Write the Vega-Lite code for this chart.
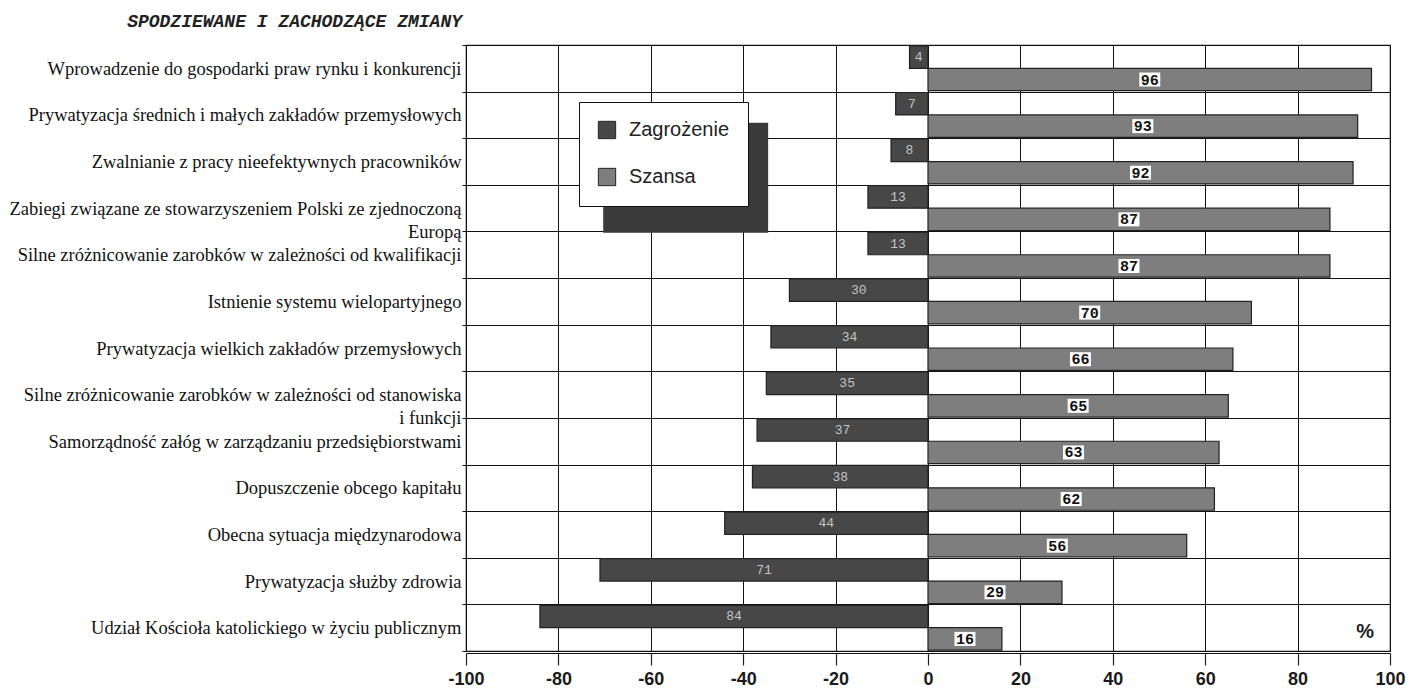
{
  "$schema": "https://vega.github.io/schema/vega-lite/v6.json",
  "width": 924,
  "height": 606,
  "autosize": {"type": "none"},
  "padding": {"left": 466, "top": 45, "right": 21, "bottom": 46},
  "background": "white",
  "title": {
    "text": "SPODZIEWANE I ZACHODZĄCE ZMIANY",
    "anchor": "start",
    "frame": "group",
    "align": "right",
    "dx": -4,
    "offset": 5,
    "font": "Liberation Mono",
    "fontStyle": "italic",
    "fontWeight": "bold",
    "fontSize": 18,
    "color": "#222222"
  },
  "config": {
    "view": {"stroke": "#111111", "strokeWidth": 1.2}
  },
  "datasets": {
    "zmiany": [
      {"kategoria": "Wprowadzenie do gospodarki praw rynku i konkurencji", "seria": "Zagrożenie", "procent": 4},
      {"kategoria": "Wprowadzenie do gospodarki praw rynku i konkurencji", "seria": "Szansa", "procent": 96},
      {"kategoria": "Prywatyzacja średnich i małych zakładów przemysłowych", "seria": "Zagrożenie", "procent": 7},
      {"kategoria": "Prywatyzacja średnich i małych zakładów przemysłowych", "seria": "Szansa", "procent": 93},
      {"kategoria": "Zwalnianie z pracy nieefektywnych pracowników", "seria": "Zagrożenie", "procent": 8},
      {"kategoria": "Zwalnianie z pracy nieefektywnych pracowników", "seria": "Szansa", "procent": 92},
      {"kategoria": "Zabiegi związane ze stowarzyszeniem Polski ze zjednoczoną\nEuropą", "seria": "Zagrożenie", "procent": 13},
      {"kategoria": "Zabiegi związane ze stowarzyszeniem Polski ze zjednoczoną\nEuropą", "seria": "Szansa", "procent": 87},
      {"kategoria": "Silne zróżnicowanie zarobków w zależności od kwalifikacji", "seria": "Zagrożenie", "procent": 13},
      {"kategoria": "Silne zróżnicowanie zarobków w zależności od kwalifikacji", "seria": "Szansa", "procent": 87},
      {"kategoria": "Istnienie systemu wielopartyjnego", "seria": "Zagrożenie", "procent": 30},
      {"kategoria": "Istnienie systemu wielopartyjnego", "seria": "Szansa", "procent": 70},
      {"kategoria": "Prywatyzacja wielkich zakładów przemysłowych", "seria": "Zagrożenie", "procent": 34},
      {"kategoria": "Prywatyzacja wielkich zakładów przemysłowych", "seria": "Szansa", "procent": 66},
      {"kategoria": "Silne zróżnicowanie zarobków w zależności od stanowiska\ni funkcji", "seria": "Zagrożenie", "procent": 35},
      {"kategoria": "Silne zróżnicowanie zarobków w zależności od stanowiska\ni funkcji", "seria": "Szansa", "procent": 65},
      {"kategoria": "Samorządność załóg w zarządzaniu przedsiębiorstwami", "seria": "Zagrożenie", "procent": 37},
      {"kategoria": "Samorządność załóg w zarządzaniu przedsiębiorstwami", "seria": "Szansa", "procent": 63},
      {"kategoria": "Dopuszczenie obcego kapitału", "seria": "Zagrożenie", "procent": 38},
      {"kategoria": "Dopuszczenie obcego kapitału", "seria": "Szansa", "procent": 62},
      {"kategoria": "Obecna sytuacja międzynarodowa", "seria": "Zagrożenie", "procent": 44},
      {"kategoria": "Obecna sytuacja międzynarodowa", "seria": "Szansa", "procent": 56},
      {"kategoria": "Prywatyzacja służby zdrowia", "seria": "Zagrożenie", "procent": 71},
      {"kategoria": "Prywatyzacja służby zdrowia", "seria": "Szansa", "procent": 29},
      {"kategoria": "Udział Kościoła katolickiego w życiu publicznym", "seria": "Zagrożenie", "procent": 84},
      {"kategoria": "Udział Kościoła katolickiego w życiu publicznym", "seria": "Szansa", "procent": 16}
    ],
    "dodatki": [
      {"element": "cien", "x0": -70.3, "x1": -34.6, "y0": 1.67, "y1": 4.03}
    ],
    "jednostka": [
      {"napis": "%", "x": 94.6, "y": 12.6}
    ]
  },
  "layer": [
    {
      "layer": [
        {
          "data": {"name": "dodatki"},
          "mark": {"type": "rect", "fill": "#3a3a3a"},
          "encoding": {
            "x": {"field": "x0", "type": "quantitative", "scale": {"domain": [-100, 100], "nice": false}},
            "x2": {"field": "x1"},
            "y": {"field": "y0", "type": "quantitative", "scale": {"domain": [0, 13], "reverse": true, "nice": false, "zero": false}, "axis": null},
            "y2": {"field": "y1"}
          }
        },
        {
          "data": {"name": "jednostka"},
          "mark": {"type": "text", "font": "Liberation Sans", "fontWeight": "bold", "fontSize": 20, "color": "#222222", "align": "center", "baseline": "middle"},
          "encoding": {
            "x": {"field": "x", "type": "quantitative"},
            "y": {"field": "y", "type": "quantitative"},
            "text": {"field": "napis"}
          }
        }
      ]
    },
    {
      "data": {"name": "zmiany"},
      "transform": [
        {"calculate": "datum.seria === 'Zagrożenie' ? -datum.procent : datum.procent", "as": "pozycja"},
        {"calculate": "datum.pozycja / 2", "as": "srodek"}
      ],
      "encoding": {
        "y": {
          "field": "kategoria",
          "type": "nominal",
          "sort": null,
          "scale": {"paddingInner": 0, "paddingOuter": 0},
          "axis": {
            "orient": "left",
            "title": null,
            "grid": true,
            "gridColor": "#111111",
            "gridWidth": 1,
            "tickBand": "extent",
            "domain": true,
            "domainColor": "#111111",
            "ticks": true,
            "tickSize": 4,
            "tickColor": "#111111",
            "labelFont": "Liberation Serif",
            "labelFontSize": 18.5,
            "labelColor": "#111111",
            "labelLimit": 0,
            "labelPadding": 1,
            "labelLineHeight": 23,
            "labelExpr": "split(datum.label, '\\n')"
          }
        },
        "yOffset": {
          "field": "seria",
          "type": "nominal",
          "sort": ["Zagrożenie", "Szansa"],
          "scale": {"paddingInner": 0, "paddingOuter": 0.04}
        }
      },
      "layer": [
        {
          "mark": {"type": "bar", "stroke": "#222222", "strokeWidth": 1.2},
          "encoding": {
            "x": {
              "field": "pozycja",
              "type": "quantitative",
              "scale": {"domain": [-100, 100], "nice": false},
              "axis": {
                "values": [-100, -80, -60, -40, -20, 0, 20, 40, 60, 80, 100],
                "labelExpr": "'' + datum.value",
                "title": null,
                "grid": true,
                "gridColor": "#111111",
                "gridWidth": 1,
                "domain": true,
                "domainColor": "#111111",
                "offset": 2,
                "tickSize": 12,
                "tickColor": "#222222",
                "tickWidth": 1.2,
                "labelFont": "Liberation Sans",
                "labelFontWeight": "bold",
                "labelFontSize": 18,
                "labelColor": "#1a1a1a",
                "labelPadding": 5,
                "labelFlush": false
              }
            },
            "x2": {"datum": 0},
            "color": {
              "field": "seria",
              "type": "nominal",
              "scale": {"domain": ["Zagrożenie", "Szansa"], "range": ["#474747", "#7e7e7e"]},
              "legend": {
                "orient": "none",
                "legendX": 113,
                "legendY": 57,
                "title": null,
                "fillColor": "white",
                "strokeColor": "#111111",
                "padding": 18,
                "symbolType": "square",
                "symbolSize": 300,
                "symbolStrokeColor": "#222222",
                "symbolStrokeWidth": 1,
                "labelFont": "Liberation Sans",
                "labelFontSize": 20,
                "labelColor": "#222222",
                "labelOffset": 12,
                "rowPadding": 25
              }
            }
          }
        },
        {
          "transform": [{"filter": "datum.seria === 'Szansa'"}],
          "mark": {"type": "point", "shape": "M-1.5,-1H1.5V1H-1.5Z", "size": 196, "filled": true, "fill": "white", "opacity": 1, "strokeWidth": 0},
          "encoding": {
            "x": {"field": "srodek", "type": "quantitative"}
          }
        },
        {
          "transform": [{"filter": "datum.seria === 'Szansa'"}],
          "mark": {"type": "text", "font": "Liberation Mono", "fontWeight": "bold", "fontSize": 15, "color": "#111111", "align": "center", "baseline": "middle"},
          "encoding": {
            "x": {"field": "srodek", "type": "quantitative"},
            "text": {"field": "procent", "type": "quantitative"}
          }
        },
        {
          "transform": [{"filter": "datum.seria === 'Zagrożenie'"}],
          "mark": {"type": "text", "font": "Liberation Mono", "fontSize": 13, "color": "#c4c4c4", "align": "center", "baseline": "middle"},
          "encoding": {
            "x": {"field": "srodek", "type": "quantitative"},
            "text": {"field": "procent", "type": "quantitative"}
          }
        }
      ]
    }
  ],
  "resolve": {"scale": {"y": "independent"}}
}
